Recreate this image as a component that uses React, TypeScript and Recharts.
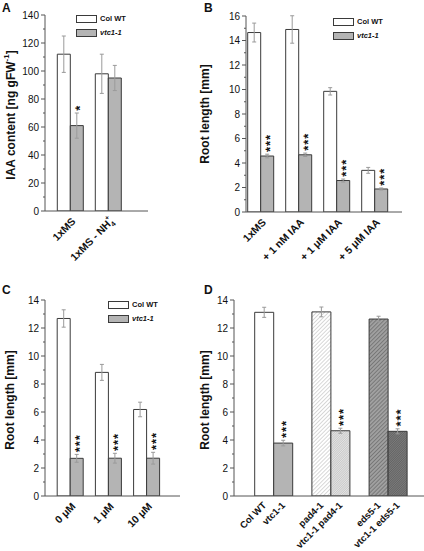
import React from 'react';
import { BarChart, Bar, XAxis, YAxis, ErrorBar, LabelList, Cell } from 'recharts';

const FONT = "'Liberation Sans', Arial, Helvetica, sans-serif";
const AXIS = '#555';
const EDGE = '#3a3a3a';
const GREY = '#b4b4b4';
const ERR = '#9a9a9a';

const legendNames = ['Col WT', 'vtc1-1'];

// panel A - IAA content
const catsA = ['1xMS', '1xMS - NH4+'];
const colWtA = [112, 98];
const colWtErrA = [13, 14];
const vtcA = [61, 95];
const vtcErrA = [9, 9];
const starsA = ['*', ''];
const ticksA = [0, 10, 20, 30, 40, 50, 60, 70, 80, 90, 100, 110, 120, 130, 140];

// panel B - root length with IAA
const catsB = ['1xMS', '+ 1 nM IAA', '+ 1 \u03bcM IAA', '+ 5 \u03bcM IAA'];
const colWtB = [14.65, 14.9, 9.85, 3.4];
const colWtErrB = [0.77, 1.12, 0.3, 0.24];
const vtcB = [4.57, 4.67, 2.57, 1.88];
const vtcErrB = [0.15, 0.14, 0.12, 0.08];
const starsB = ['***', '***', '***', '***'];
const ticksB = [0, 1, 2, 3, 4, 5, 6, 7, 8, 9, 10, 11, 12, 13, 14, 15, 16];

// panel C - root length
const catsC = ['0 \u03bcM', '1 \u03bcM', '10 \u03bcM'];
const colWtC = [12.68, 8.83, 6.18];
const colWtErrC = [0.62, 0.57, 0.52];
const vtcC = [2.69, 2.7, 2.7];
const vtcErrC = [0.28, 0.35, 0.42];
const starsC = ['***', '***', '***'];
const ticksC = [0, 1, 2, 3, 4, 5, 6, 7, 8, 9, 10, 11, 12, 13, 14];

// panel D - double mutants
const leftLabelsD = ['Col WT', 'pad4-1', 'eds5-1'];
const rightLabelsD = ['vtc1-1', 'vtc1-1 pad4-1', 'vtc1-1 eds5-1'];
const singleD = [13.12, 13.15, 12.64];
const singleErrD = [0.36, 0.35, 0.2];
const doubleD = [3.78, 4.66, 4.62];
const doubleErrD = [0.2, 0.18, 0.18];
const starsD = ['***', '***', '***'];
const fillsLeftD = ['#ffffff', 'url(#hatchPad)', 'url(#hatchEds)'];
const fillsRightD = [GREY, 'url(#hatchVtcPad)', 'url(#hatchVtcEds)'];

const dataA = catsA.map((cat, i) => ({ cat, col: colWtA[i], colErr: colWtErrA[i], vtc: vtcA[i], vtcErr: vtcErrA[i] }));
const dataB = catsB.map((cat, i) => ({ cat, col: colWtB[i], colErr: colWtErrB[i], vtc: vtcB[i], vtcErr: vtcErrB[i] }));
const dataC = catsC.map((cat, i) => ({ cat, col: colWtC[i], colErr: colWtErrC[i], vtc: vtcC[i], vtcErr: vtcErrC[i] }));
const dataD = leftLabelsD.map((cat, i) => ({ cat, a: singleD[i], aErr: singleErrD[i], b: doubleD[i], bErr: doubleErrD[i] }));

function labelText(s: string) {
  if (s.endsWith('NH4+')) {
    return (
      <>
        {s.slice(0, -2)}
        <tspan dy={3} fontSize={7}>4</tspan>
        <tspan dx={-4} dy={-9} fontSize={7}>+</tspan>
      </>
    );
  }
  return s;
}

function RotLabel({ x, y, text, size = 10.5, dx = 6, dy = 11 }: any) {
  const ax = x + dx;
  const ay = y + dy;
  return (
    <text x={ax} y={ay} transform={`rotate(-45 ${ax} ${ay})`} textAnchor="end"
      fontSize={size} fontWeight="bold" fontFamily={FONT} fill="#111">
      {labelText(text)}
    </text>
  );
}

function XTick(props: any) {
  const { x, y, payload } = props;
  return <RotLabel x={x} y={y} text={String(payload.value)} />;
}

function PairTick(props: any) {
  const { x, y, index } = props;
  return (
    <g>
      <RotLabel x={x - 9.5} y={y} text={leftLabelsD[index]} size={9.5} dx={3} dy={10} />
      <RotLabel x={x + 9.5} y={y} text={rightLabelsD[index]} size={9.5} dx={3} dy={10} />
    </g>
  );
}

function YTick(props: any) {
  const { x, y, payload, major } = props;
  const v = Number(payload.value);
  const isMajor = v % major === 0;
  return (
    <g>
      <line x1={x - (isMajor ? 4 : 2)} y1={y} x2={x} y2={y} stroke={AXIS} strokeWidth={1} />
      {isMajor && (
        <text x={x - 6} y={y} dy={3.6} textAnchor="end" fontSize={10} fontFamily={FONT} fill="#111">{v}</text>
      )}
    </g>
  );
}

function YTitle({ tx, ty, sup }: { tx: number; ty: number; sup?: boolean }) {
  return (
    <text x={tx} y={ty} transform={`rotate(-90 ${tx} ${ty})`} textAnchor="middle" dominantBaseline="central"
      fontSize={12} fontWeight="bold" fontFamily={FONT} fill="#111">
      {sup ? (
        <>
          IAA content [ng gFW<tspan dy={-4.5} fontSize={8}>-1</tspan><tspan dy={4.5}>]</tspan>
        </>
      ) : 'Root length [mm]'}
    </text>
  );
}

// significance stars, written upwards above the error bar
// (-89.9 instead of -90 keeps the small glyphs from getting colour fringes)
function Stars(props: any) {
  const { index, errs, marks } = props;
  const vb = props.viewBox || props;
  const { x, y, width, height } = vb;
  const value = Number(props.value);
  const mark: string = marks[index];
  if (!mark || !value) return null;
  const top = y - errs[index] * (height / value);
  const bx = x + width / 2 + 7.4;
  const by = top - 2.3;
  return (
    <text x={bx} y={by} transform={`rotate(-89.9 ${bx} ${by})`} fontSize={13} letterSpacing={0.9}
      fontWeight="bold" fontFamily={FONT} fill="#111">{mark}</text>
  );
}

function Legend2({ left, top }: { left: number; top: number }) {
  const fills = ['#ffffff', GREY];
  return (
    <div style={{ position: 'absolute', left, top, fontFamily: FONT, fontSize: 7.5, fontWeight: 'bold', color: '#111' }}>
      {legendNames.map((name, i) => (
        <React.Fragment key={name}>
          <div style={{ position: 'absolute', left: 0, top: i * 14, width: 21, height: 8, boxSizing: 'border-box',
            border: `1px solid ${EDGE}`, background: fills[i] }} />
          <div style={{ position: 'absolute', left: 24, top: i * 14 - 1, lineHeight: '10px', whiteSpace: 'nowrap',
            fontStyle: i === 1 ? 'italic' : 'normal' }}>{name}</div>
        </React.Fragment>
      ))}
    </div>
  );
}

function Letter({ left, top, ch }: { left: number; top: number; ch: string }) {
  return (
    <div style={{ position: 'absolute', left, top, fontFamily: FONT, fontSize: 12, fontWeight: 'bold', lineHeight: '12px', color: '#111' }}>
      {ch}
    </div>
  );
}

const axisCommon = { stroke: AXIS, tickLine: false, tickSize: 0, tickMargin: 0, interval: 0 as const };

export default function App() {
  return (
    <div style={{ position: 'absolute', left: 0, top: 0, width: 424, height: 551, background: '#fff', overflow: 'hidden' }}>
      {/* A */}
      <div style={{ position: 'absolute', left: 0, top: 0 }}>
        <BarChart width={212} height={280} data={dataA} margin={{ top: 15, right: 64, bottom: 0, left: 0 }} barGap={0} barSize={13}>
          <XAxis dataKey="cat" {...axisCommon} height={69} padding={{ left: 6.3, right: 20.7 }} tick={<XTick />} />
          <YAxis {...axisCommon} width={45} domain={[0, 140]} ticks={ticksA} allowDataOverflow
            tick={<YTick major={20} />} label={<YTitle tx={10.5} ty={115} sup />} />
          <Bar dataKey="col" fill="#ffffff" stroke={EDGE} strokeWidth={1} barSize={13} isAnimationActive={false}>
            <ErrorBar dataKey="colErr" width={2} stroke={ERR} strokeWidth={1} />
          </Bar>
          <Bar dataKey="vtc" fill={GREY} stroke={EDGE} strokeWidth={1} barSize={13} isAnimationActive={false}>
            <ErrorBar dataKey="vtcErr" width={2} stroke={ERR} strokeWidth={1} />
            <LabelList dataKey="vtc" content={<Stars errs={vtcErrA} marks={starsA} />} />
          </Bar>
        </BarChart>
      </div>
      {/* B */}
      <div style={{ position: 'absolute', left: 190, top: 0 }}>
        <BarChart width={234} height={280} data={dataB} margin={{ top: 16, right: 22, bottom: 0, left: 0 }} barGap={0} barSize={13}>
          <XAxis dataKey="cat" {...axisCommon} height={68} padding={{ left: -4.3, right: 8.3 }} tick={<XTick />} />
          <YAxis {...axisCommon} width={56} domain={[0, 16]} ticks={ticksB} allowDataOverflow
            tick={<YTick major={2} />} label={<YTitle tx={15} ty={114} />} />
          <Bar dataKey="col" fill="#ffffff" stroke={EDGE} strokeWidth={1} barSize={13} isAnimationActive={false}>
            <ErrorBar dataKey="colErr" width={2} stroke={ERR} strokeWidth={1} />
          </Bar>
          <Bar dataKey="vtc" fill={GREY} stroke={EDGE} strokeWidth={1} barSize={13} isAnimationActive={false}>
            <ErrorBar dataKey="vtcErr" width={2} stroke={ERR} strokeWidth={1} />
            <LabelList dataKey="vtc" content={<Stars errs={vtcErrB} marks={starsB} />} />
          </Bar>
        </BarChart>
      </div>
      {/* C */}
      <div style={{ position: 'absolute', left: 0, top: 280 }}>
        <BarChart width={212} height={271} data={dataC} margin={{ top: 20, right: 32, bottom: 0, left: 0 }} barGap={0} barSize={13}>
          <XAxis dataKey="cat" {...axisCommon} height={55} padding={{ left: 6.2, right: 14.2 }} tick={<XTick />} />
          <YAxis {...axisCommon} width={45} domain={[0, 14]} ticks={ticksC} allowDataOverflow
            tick={<YTick major={2} />} label={<YTitle tx={10} ty={120} />} />
          <Bar dataKey="col" fill="#ffffff" stroke={EDGE} strokeWidth={1} barSize={13} isAnimationActive={false}>
            <ErrorBar dataKey="colErr" width={2} stroke={ERR} strokeWidth={1} />
          </Bar>
          <Bar dataKey="vtc" fill={GREY} stroke={EDGE} strokeWidth={1} barSize={13} isAnimationActive={false}>
            <ErrorBar dataKey="vtcErr" width={2} stroke={ERR} strokeWidth={1} />
            <LabelList dataKey="vtc" content={<Stars errs={vtcErrC} marks={starsC} />} />
          </Bar>
        </BarChart>
      </div>
      {/* D */}
      <div style={{ position: 'absolute', left: 190, top: 280 }}>
        <BarChart width={234} height={271} data={dataD} margin={{ top: 20, right: 0, bottom: 0, left: 0 }} barGap={0} barSize={19}>
          <defs>
            <pattern id="hatchPad" width={2.8} height={2.8} patternUnits="userSpaceOnUse" patternTransform="rotate(45)">
              <rect width={2.8} height={2.8} fill="#ffffff" />
              <line x1={0} y1={0} x2={0} y2={2.8} stroke="#a8a8a8" strokeWidth={0.9} />
            </pattern>
            <pattern id="hatchVtcPad" width={1.6} height={1.6} patternUnits="userSpaceOnUse" patternTransform="rotate(45)">
              <rect width={1.6} height={1.6} fill="#e4e4e4" />
              <line x1={0} y1={0} x2={0} y2={1.6} stroke="#9a9a9a" strokeWidth={0.6} />
            </pattern>
            <pattern id="hatchEds" width={2.8} height={2.8} patternUnits="userSpaceOnUse" patternTransform="rotate(45)">
              <rect width={2.8} height={2.8} fill="#a0a0a0" />
              <line x1={0} y1={0} x2={0} y2={2.8} stroke="#4a4a4a" strokeWidth={0.9} />
            </pattern>
            <pattern id="hatchVtcEds" width={1.6} height={1.6} patternUnits="userSpaceOnUse" patternTransform="rotate(45)">
              <rect width={1.6} height={1.6} fill="#7c7c7c" />
              <line x1={0} y1={0} x2={0} y2={1.6} stroke="#3a3a3a" strokeWidth={0.6} />
            </pattern>
          </defs>
          <XAxis dataKey="cat" {...axisCommon} height={55} padding={{ left: 10.7, right: 7.7 }} tick={<PairTick />} />
          <YAxis {...axisCommon} width={44} domain={[0, 14]} ticks={ticksC} allowDataOverflow
            tick={<YTick major={2} />} label={<YTitle tx={15} ty={120} />} />
          <Bar dataKey="a" stroke={EDGE} strokeWidth={1} barSize={19} isAnimationActive={false}>
            {fillsLeftD.map((f) => <Cell key={f} fill={f} />)}
            <ErrorBar dataKey="aErr" width={2} stroke={ERR} strokeWidth={1} />
          </Bar>
          <Bar dataKey="b" stroke={EDGE} strokeWidth={1} barSize={19} isAnimationActive={false}>
            {fillsRightD.map((f) => <Cell key={f} fill={f} />)}
            <ErrorBar dataKey="bErr" width={2} stroke={ERR} strokeWidth={1} />
            <LabelList dataKey="b" content={<Stars errs={doubleErrD} marks={starsD} />} />
          </Bar>
        </BarChart>
      </div>
      <Legend2 left={76} top={15} />
      <Legend2 left={333} top={18} />
      <Legend2 left={108} top={301} />
      <Letter left={2} top={2} ch="A" />
      <Letter left={204} top={2} ch="B" />
      <Letter left={2} top={284} ch="C" />
      <Letter left={204} top={284} ch="D" />
    </div>
  );
}
